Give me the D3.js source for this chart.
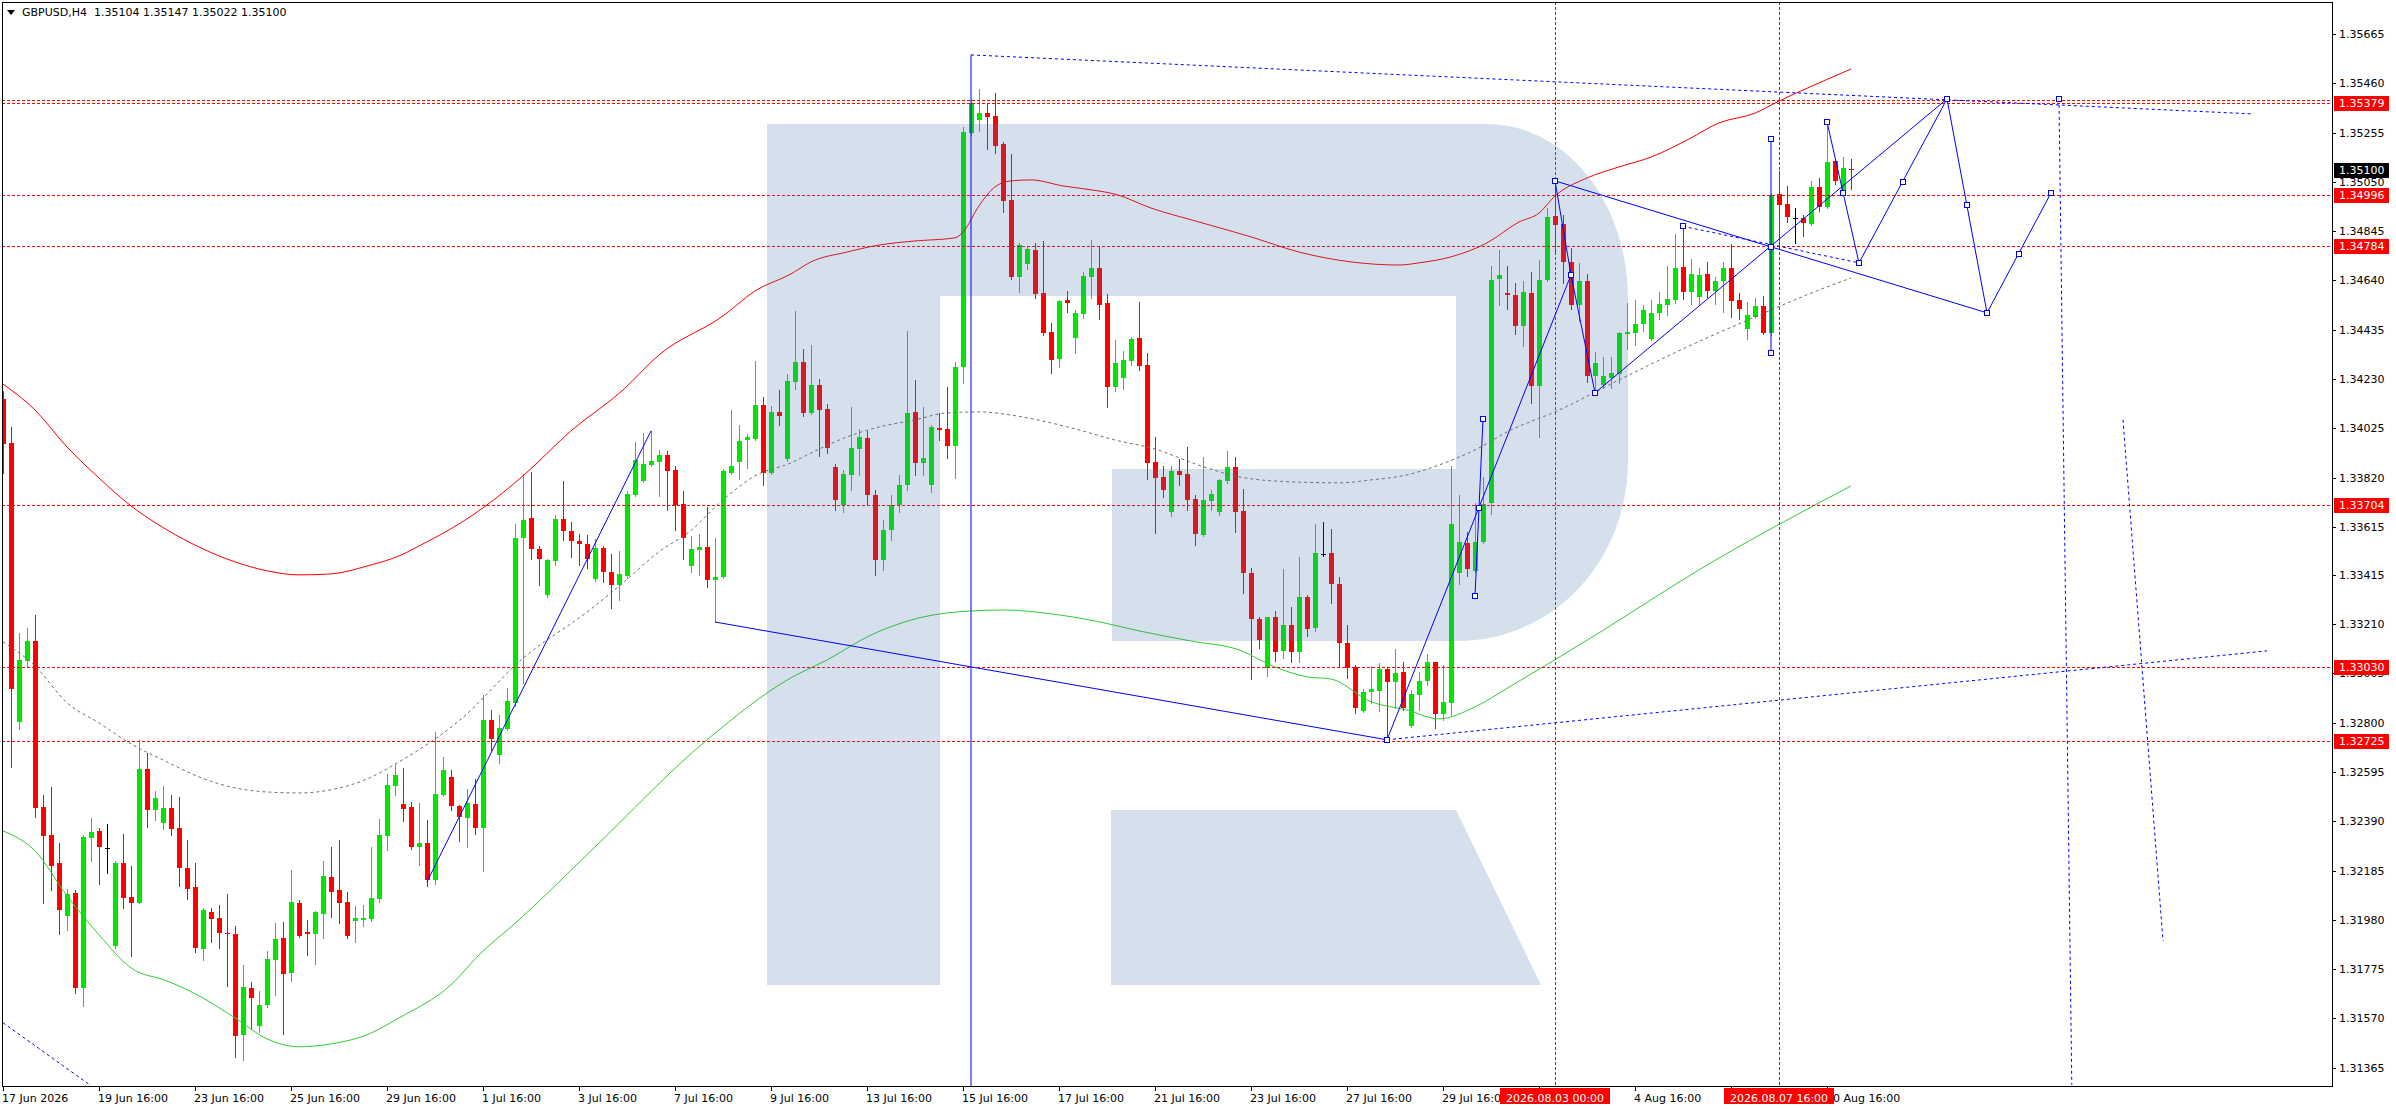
<!DOCTYPE html>
<html>
<head>
<meta charset="utf-8">
<script src="https://cdn.jsdelivr.net/npm/d3@7"></script>
<style>
  body { margin: 0; background: #fff; }
  svg { display: block; }
  text { font-family: "DejaVu Sans", sans-serif; font-size: 11px; }
</style>
</head>
<body>
<div id="container"></div>
<script>
// chart size and plot frame
var width = 2396, height = 1110;
var frame = {left: 2, top: 2, right: 2332, bottom: 1086};

// ---- data ----
var symbol = "GBPUSD,H4";
var firstBar = -12;   // bar 0 = 19 Jun 16:00, one bar = 4 hours

var opens = [
  1.34145,1.33964,1.32801,1.33057,1.33140,1.32449,1.32332,1.32215,1.31995,1.32092,1.31695,1.32319,
  1.32350,1.32278,1.31872,1.32218,1.32074,1.32052,1.32608,1.32438,1.32382,1.32446,1.32363,1.32197,
  1.32115,1.31859,1.32014,1.31987,1.31926,1.31922,1.31502,1.31697,1.31538,1.31625,1.31814,1.31904,
  1.31760,1.32052,1.31931,1.31920,1.32004,1.32159,1.32105,1.32056,1.31977,1.31980,1.31982,1.32067,
  1.32330,1.32538,1.32463,1.32451,1.32283,1.32301,1.32147,1.32499,1.32575,1.32452,1.32405,1.32463,
  1.32362,1.32811,1.32667,1.32773,1.32882,1.33567,1.33652,1.33524,1.33333,1.33471,1.33648,1.33598,
  1.33558,1.33545,1.33396,1.33527,1.33425,1.33371,1.33410,1.33749,1.33807,1.33874,1.33886,1.33912,
  1.33852,1.33711,1.33452,1.33518,1.33531,1.33392,1.33405,1.33840,1.33885,1.33975,1.33982,1.34123,
  1.33840,1.34092,1.33897,1.34219,1.34301,1.34090,1.34206,1.34105,1.33865,1.33706,1.33831,1.33939,
  1.33985,1.33748,1.33477,1.33602,1.33706,1.33789,1.34094,1.33882,1.33789,1.34026,1.34022,1.33951,
  1.34280,1.35255,1.35309,1.35336,1.35324,1.35208,1.34975,1.34656,1.34707,1.34767,1.34588,1.34425,
  1.34314,1.34559,1.34402,1.34502,1.34656,1.34692,1.34546,1.34198,1.34236,1.34306,1.34402,1.34288,
  1.33885,1.33824,1.33678,1.33847,1.33835,1.33731,1.33581,1.33723,1.33678,1.33806,1.33863,1.33681,
  1.33422,1.33232,1.33027,1.33239,1.33100,1.33207,1.33096,1.33322,1.33196,1.33502,1.33505,1.33377,
  1.33130,1.33031,1.32850,1.32927,1.32934,1.33024,1.32971,1.33010,1.32788,1.32916,1.32974,1.33052,
  1.32836,1.32884,1.33422,1.33547,1.33433,1.33553,1.33713,1.34644,1.34588,1.34579,1.34452,1.34589,
  1.34202,1.34642,1.34908,1.34875,1.34715,1.34538,1.34638,1.34244,1.34205,1.34236,1.34250,1.34416,
  1.34423,1.34458,1.34395,1.34503,1.34538,1.34559,1.34695,1.34593,1.34572,1.34667,1.34596,1.34636,
  1.34690,1.34559,1.34437,1.34489,1.34534,1.34423,1.34999,1.34958,1.34898,1.34901,1.34875,1.35027,
  1.34944,1.35137,1.35016,1.35104
];
var highs = [
  1.34181,1.34031,1.33174,1.33194,1.33248,1.32498,1.32534,1.32299,1.32108,1.32106,1.32332,1.32404,
  1.32364,1.32377,1.32224,1.32336,1.32206,1.32729,1.32675,1.32516,1.32536,1.32498,1.32491,1.32314,
  1.32218,1.32029,1.32029,1.32043,1.32088,1.31953,1.31791,1.31722,1.31683,1.31850,1.31966,1.31971,
  1.32188,1.32061,1.31980,1.32016,1.32224,1.32283,1.32314,1.32094,1.32038,1.32043,1.32281,1.32401,
  1.32585,1.32630,1.32611,1.32472,1.32467,1.32396,1.32761,1.32656,1.32602,1.32458,1.32526,1.32566,
  1.32914,1.32855,1.32833,1.32945,1.33627,1.33834,1.33843,1.33536,1.33482,1.33663,1.33807,1.33636,
  1.33585,1.33581,1.33563,1.33536,1.33500,1.33515,1.33762,1.33969,1.34006,1.34014,1.33933,1.33930,
  1.33870,1.33762,1.33576,1.33587,1.33699,1.33569,1.33857,1.34101,1.34038,1.34002,1.34303,1.34155,
  1.34117,1.34186,1.34249,1.34513,1.34355,1.34372,1.34230,1.34126,1.33877,1.33852,1.34114,1.34022,
  1.34014,1.33769,1.33644,1.33748,1.33830,1.34430,1.34226,1.34114,1.34039,1.34089,1.34197,1.34301,
  1.35278,1.35395,1.35436,1.35374,1.35420,1.35215,1.35166,1.34796,1.34783,1.34796,1.34804,1.34464,
  1.34560,1.34597,1.34517,1.34675,1.34808,1.34783,1.34584,1.34392,1.34347,1.34406,1.34550,1.34338,
  1.33990,1.33868,1.33869,1.33897,1.33948,1.33748,1.33907,1.33769,1.33815,1.33931,1.33907,1.33773,
  1.33444,1.33240,1.33241,1.33265,1.33440,1.33283,1.33491,1.33330,1.33627,1.33634,1.33605,1.33408,
  1.33207,1.33040,1.32939,1.33038,1.33048,1.33027,1.33107,1.33052,1.32937,1.33013,1.33086,1.33054,
  1.33041,1.33870,1.33748,1.33592,1.33713,1.33824,1.34700,1.34767,1.34700,1.34628,1.34638,1.34676,
  1.34725,1.34943,1.35058,1.34912,1.34774,1.34711,1.34667,1.34344,1.34323,1.34323,1.34425,1.34545,
  1.34559,1.34538,1.34559,1.34593,1.34700,1.34833,1.34864,1.34728,1.34691,1.34718,1.34656,1.34715,
  1.34790,1.34587,1.34549,1.34566,1.34577,1.35004,1.35095,1.35033,1.34940,1.34912,1.35055,1.35067,
  1.35298,1.35141,1.35154,1.35147
];
var lows = [
  1.33838,1.32615,1.32772,1.33035,1.32408,1.32049,1.32106,1.31922,1.31939,1.31677,1.31623,1.32224,
  1.32130,1.32175,1.31865,1.32029,1.31830,1.32049,1.32368,1.32395,1.32359,1.32332,1.32119,1.32065,
  1.31845,1.31814,1.31888,1.31863,1.31706,1.31408,1.31395,1.31526,1.31515,1.31619,1.31668,1.31506,
  1.31724,1.31908,1.31832,1.31796,1.31903,1.31993,1.31968,1.31905,1.31888,1.31953,1.31975,1.32054,
  1.32272,1.32500,1.32391,1.32275,1.32207,1.32120,1.32129,1.32494,1.32436,1.32310,1.32283,1.32337,
  1.32184,1.32685,1.32634,1.32770,1.32869,1.32965,1.33482,1.33374,1.33325,1.33455,1.33560,1.33488,
  1.33455,1.33443,1.33390,1.33387,1.33279,1.33311,1.33402,1.33744,1.33800,1.33868,1.33744,1.33686,
  1.33603,1.33482,1.33425,1.33416,1.33365,1.33217,1.33401,1.33835,1.33812,1.33861,1.33975,1.33789,
  1.33834,1.34038,1.33888,1.34188,1.34077,1.34086,1.33911,1.33921,1.33685,1.33677,1.33768,1.33831,
  1.33706,1.33415,1.33436,1.33560,1.33677,1.33768,1.33831,1.33831,1.33760,1.33976,1.33901,1.33818,
  1.34213,1.35245,1.35262,1.35188,1.35171,1.34926,1.34646,1.34593,1.34689,1.34568,1.34413,1.34256,
  1.34280,1.34508,1.34340,1.34484,1.34568,1.34481,1.34115,1.34181,1.34190,1.34288,1.34268,1.33813,
  1.33591,1.33741,1.33662,1.33789,1.33685,1.33540,1.33575,1.33685,1.33664,1.33796,1.33595,1.33341,
  1.32981,1.33110,1.32996,1.33058,1.33071,1.33052,1.33054,1.33161,1.33182,1.33495,1.33300,1.33036,
  1.32985,1.32840,1.32845,1.32884,1.32850,1.32729,1.32861,1.32853,1.32784,1.32853,1.32955,1.32780,
  1.32812,1.32833,1.33376,1.33411,1.33429,1.33548,1.33667,1.34538,1.34521,1.34416,1.34367,1.34129,
  1.33990,1.34638,1.34760,1.34631,1.34521,1.34473,1.34219,1.34177,1.34191,1.34191,1.34212,1.34354,
  1.34372,1.34431,1.34392,1.34478,1.34496,1.34545,1.34563,1.34542,1.34538,1.34572,1.34541,1.34510,
  1.34489,1.34480,1.34395,1.34485,1.34415,1.34413,1.34787,1.34884,1.34797,1.34826,1.34871,1.34930,
  1.34940,1.35041,1.35009,1.35022
];
var closes = [
  1.33959,1.32942,1.33063,1.33140,1.32447,1.32327,1.32206,1.32022,1.32088,1.31695,1.32323,1.32346,
  1.32281,1.32278,1.32218,1.32069,1.32052,1.32608,1.32438,1.32487,1.32446,1.32359,1.32197,1.32110,
  1.31863,1.32022,1.31984,1.31926,1.31922,1.31497,1.31701,1.31655,1.31627,1.31818,1.31899,1.31755,
  1.32054,1.31913,1.31920,1.32011,1.32164,1.32096,1.32050,1.31913,1.31987,1.31989,1.32069,1.32332,
  1.32541,1.32583,1.32443,1.32283,1.32301,1.32147,1.32505,1.32602,1.32452,1.32409,1.32467,1.32362,
  1.32810,1.32734,1.32779,1.32892,1.33569,1.33645,1.33524,1.33482,1.33477,1.33648,1.33596,1.33554,
  1.33545,1.33482,1.33527,1.33425,1.33371,1.33419,1.33753,1.33894,1.33876,1.33888,1.33913,1.33849,
  1.33704,1.33567,1.33522,1.33531,1.33392,1.33407,1.33847,1.33868,1.33973,1.33989,1.34123,1.33840,
  1.34092,1.34078,1.34222,1.34301,1.34090,1.34206,1.34101,1.33944,1.33727,1.33835,1.33943,1.33989,
  1.33748,1.33477,1.33602,1.33706,1.33789,1.34090,1.33882,1.33903,1.34032,1.34018,1.33951,1.34280,
  1.35259,1.35379,1.35336,1.35321,1.35200,1.34972,1.34656,1.34786,1.34771,1.34585,1.34421,1.34310,
  1.34554,1.34547,1.34505,1.34659,1.34692,1.34539,1.34198,1.34297,1.34309,1.34396,1.34285,1.33882,
  1.33820,1.33768,1.33847,1.33831,1.33727,1.33585,1.33727,1.33752,1.33810,1.33863,1.33678,1.33422,
  1.33232,1.33145,1.33239,1.33096,1.33207,1.33096,1.33322,1.33190,1.33505,1.33502,1.33376,1.33133,
  1.33027,1.32863,1.32927,1.32941,1.33024,1.32971,1.33006,1.32860,1.32919,1.32974,1.33052,1.32836,
  1.32885,1.33626,1.33551,1.33439,1.33553,1.33709,1.34642,1.34663,1.34578,1.34452,1.34593,1.34202,
  1.34642,1.34905,1.34872,1.34718,1.34538,1.34638,1.34244,1.34295,1.34244,1.34254,1.34420,1.34424,
  1.34458,1.34517,1.34503,1.34541,1.34562,1.34690,1.34593,1.34667,1.34663,1.34596,1.34638,1.34690,
  1.34556,1.34520,1.34496,1.34534,1.34423,1.34995,1.34954,1.34905,1.34898,1.34878,1.35027,1.34944,
  1.35134,1.35055,1.35106,1.35100
];

// envelope indicator, read as [bar, price]
var upperBand = [[-12,1.34209],[-8,1.34101],[-4,1.33947],[0,1.33818],[4,1.33702],[8.5,1.33602],[12.5,1.33531],
  [17,1.33469],[21,1.33432],[25,1.33415],[29,1.33419],[33.5,1.33452],[37.5,1.33494],[40.5,1.33544],[45,1.33627],
  [48.5,1.33706],[53,1.33827],[59,1.34014],[65.5,1.34184],[70,1.34330],[78,1.34492],[82,1.34596],[86.5,1.34667],
  [89,1.34717],[93.5,1.34758],[97.5,1.34787],[102,1.34804],[107,1.34817],[108,1.34841],[110,1.34950],[112,1.35029],
  [114,1.35054],[116.5,1.35058],[120.5,1.35033],[125,1.35012],[127,1.34999],[131.5,1.34941],[137.5,1.34883],
  [144,1.34821],[150,1.34758],[156.5,1.34717],[162.5,1.34704],[165,1.34713],[169,1.34738],[173.5,1.34796],
  [177.5,1.34883],[180,1.34920],[182,1.34991],[186,1.35066],[190,1.35112],[194,1.35153],[198.5,1.35224],
  [202.5,1.35295],[207,1.35336],[210,1.35386],[213,1.35432],[219,1.35519]];
var middleLine = [[-12,1.33136],[-8,1.33036],[-4,1.32883],[0,1.32799],[4,1.32712],[8.5,1.32637],[12.5,1.32575],
  [17,1.32529],[21,1.32512],[25,1.32508],[29,1.32521],[33.5,1.32566],[37.5,1.32637],[45,1.32808],[53,1.33068],
  [61.5,1.33273],[65.5,1.33382],[70,1.33511],[74,1.33600],[78,1.33727],[82,1.33827],[86.5,1.33881],[89,1.33922],
  [93.5,1.33989],[97.5,1.34030],[102,1.34060],[106,1.34089],[110,1.34093],[114,1.34080],[118.5,1.34051],
  [122.5,1.34018],[127,1.33976],[131.5,1.33943],[138.5,1.33860],[142.5,1.33823],[149,1.33802],[155,1.33798],
  [159,1.33810],[163.5,1.33831],[167.5,1.33872],[172,1.33935],[176.5,1.34018],[182,1.34093],[190,1.34226],
  [198.5,1.34363],[207,1.34488],[215,1.34600],[219,1.34650]];
var lowerBand = [[-12,1.32350],[-8,1.32267],[-4,1.32080],[0,1.31918],[4,1.31780],[8.5,1.31726],[12.5,1.31664],
  [17,1.31572],[21,1.31485],[25,1.31452],[29,1.31464],[33.5,1.31502],[37.5,1.31572],[44,1.31710],[47.5,1.31834],
  [52.5,1.31980],[61.5,1.32267],[76,1.32729],[86.5,1.32987],[91,1.33061],[96.5,1.33165],[102.5,1.33236],
  [109,1.33265],[113,1.33269],[119,1.33253],[125,1.33220],[130,1.33182],[136.5,1.33140],[142.5,1.33103],
  [147,1.33032],[151,1.32991],[154,1.32982],[159,1.32887],[163.5,1.32853],[167.5,1.32816],[172,1.32866],
  [176.5,1.32953],[187.5,1.33174],[200,1.33436],[219,1.33785]];

// axis ticks
var timeTickBars = [-12,0,12,24,36,48,60,72,84,96,108,120,132,144,156,168,180,192,204,216];
var timeTickLabels = ["17 Jun 2026","19 Jun 16:00","23 Jun 16:00","25 Jun 16:00","29 Jun 16:00","1 Jul 16:00",
  "3 Jul 16:00","7 Jul 16:00","9 Jul 16:00","13 Jul 16:00","15 Jul 16:00","17 Jul 16:00","21 Jul 16:00",
  "23 Jul 16:00","27 Jul 16:00","29 Jul 16:00","31 Jul 16:00","4 Aug 16:00","6 Aug 16:00","10 Aug 16:00"];
var priceTicks = [1.31365,1.31570,1.31775,1.31980,1.32185,1.32390,1.32595,1.32800,1.33005,1.33210,1.33415,
  1.33615,1.33820,1.34025,1.34230,1.34435,1.34640,1.34845,1.35050,1.35255,1.35460,1.35665];

// horizontal levels (red dotted), time markers (red dashed)
var levelPrices = [1.35379, 1.34996, 1.34784, 1.33704, 1.33030, 1.32725];
var extraLevels = [1.35390];
var lastPrice = 1.35100;
var markerBars = [182, 210];
var markerLabels = ["2026.08.03 00:00", "2026.08.07 16:00"];

// hand drawn objects, [bar, price]
var blueSolid = [
  [[41,1.32138],[69,1.34014]],
  [[77,1.33219],[161,1.32729]],
  [[161,1.32729],[184,1.34663]],
  [[182,1.35054],[184,1.34663],[187,1.34172],[231,1.35395]],
  [[182,1.35054],[236,1.34505]],
  [[173,1.34064],[172.5,1.33694],[172,1.33328]],
  [[209,1.35228],[209,1.34338]],
  [[216,1.35299],[220,1.34713],[231,1.35395],[236,1.34505],[244,1.35004]],
  [[109,1.35578],[109,1.30]]
];
var blueDotted = [
  [[109,1.35578],[269,1.35333]],
  [[161,1.32729],[271,1.33099]],
  [[198,1.34865],[220,1.34713]],
  [[245,1.35395],[246.6,1.31294]],
  [[253,1.34060],[258,1.31892]],
  [[-12,1.31552],[-1,1.31290]]
];
var blueMarkers = [[161,1.32729],[173,1.34064],[172.5,1.33694],[172,1.33328],[182,1.35054],[184,1.34663],
  [187,1.34172],[209,1.35228],[209,1.34779],[209,1.34338],[198,1.34865],[216,1.35299],[218,1.35004],
  [220,1.34713],[225.5,1.35049],[231,1.35395],[233.5,1.34955],[236,1.34505],[240,1.34750],[244,1.35004],
  [245,1.35395]];

// ---- drawing ----
var svg = d3.select("#container")
  .append("svg")
    .attr("width", width)
    .attr("height", height);

svg.append("rect").attr("width", width).attr("height", height).attr("fill", "#fff");

var x = d3.scaleLinear()
  .domain([firstBar, 219])
  .range([3, 1851]);

var y = d3.scaleLinear()
  .domain([1.31365, 1.35665])
  .range([1067.7, 34]);

svg.append("clipPath").attr("id", "plotclip")
  .append("rect")
    .attr("x", frame.left).attr("y", frame.top)
    .attr("width", frame.right - frame.left).attr("height", frame.bottom - frame.top);

var plot = svg.append("g").attr("clip-path", "url(#plotclip)");

var bars = d3.range(opens.length).map(function(k) {
  return {i: firstBar + k, o: opens[k], h: highs[k], l: lows[k], c: closes[k]};
});
function barColor(d) {
  if (d.c > d.o) return "#00e600";
  if (d.c < d.o) return "#ff0000";
  return "#000000";
}

// wicks
plot.append("g").selectAll("line")
  .data(bars)
  .enter()
  .append("line")
    .attr("x1", function(d) { return Math.round(x(d.i)) + 0.5; })
    .attr("x2", function(d) { return Math.round(x(d.i)) + 0.5; })
    .attr("y1", function(d) { return Math.round(y(d.h)); })
    .attr("y2", function(d) { return Math.round(y(d.l)) + 1; })
    .attr("stroke", barColor)
    .attr("stroke-width", 1)
    .attr("shape-rendering", "crispEdges");

// bodies
plot.append("g").selectAll("rect")
  .data(bars)
  .enter()
  .append("rect")
    .attr("x", function(d) { return Math.round(x(d.i)) - 2; })
    .attr("y", function(d) { return Math.round(y(Math.max(d.o, d.c))); })
    .attr("width", 5)
    .attr("height", function(d) {
      return Math.max(1, Math.round(y(Math.min(d.o, d.c))) - Math.round(y(Math.max(d.o, d.c))));
    })
    .attr("fill", barColor)
    .attr("shape-rendering", "crispEdges");

// envelope lines
var bandLine = d3.line()
  .x(function(d) { return x(d[0]); })
  .y(function(d) { return y(d[1]); })
  .curve(d3.curveMonotoneX);

plot.append("path").datum(upperBand)
  .attr("d", bandLine).attr("fill", "none").attr("stroke", "#ff0000").attr("stroke-width", 1);
plot.append("path").datum(middleLine)
  .attr("d", bandLine).attr("fill", "none").attr("stroke", "#707070").attr("stroke-width", 1)
  .attr("stroke-dasharray", "3,3");
plot.append("path").datum(lowerBand)
  .attr("d", bandLine).attr("fill", "none").attr("stroke", "#32cd32").attr("stroke-width", 1);

// red levels and time markers
plot.append("g").selectAll("line")
  .data(levelPrices.concat(extraLevels))
  .enter()
  .append("line")
    .attr("x1", frame.left).attr("x2", frame.right)
    .attr("y1", function(d) { return Math.round(y(d)) + 0.5; })
    .attr("y2", function(d) { return Math.round(y(d)) + 0.5; })
    .attr("stroke", "#ff0000").attr("stroke-dasharray", "3,2")
    .attr("shape-rendering", "crispEdges");

plot.append("g").selectAll("line")
  .data(markerBars)
  .enter()
  .append("line")
    .attr("x1", function(d) { return Math.round(x(d)) + 0.5; })
    .attr("x2", function(d) { return Math.round(x(d)) + 0.5; })
    .attr("y1", frame.top).attr("y2", frame.bottom)
    .attr("stroke", "#ff0000").attr("stroke-dasharray", "3,2")
    .attr("shape-rendering", "crispEdges");

// watermark logo (semi transparent over the chart)
var logo = plot.append("g").attr("fill", "rgb(67,116,170)").attr("fill-opacity", 0.224);
logo.append("path")
  .attr("d", "M767,124 H1487 C1565,124 1628,200 1628,300 V460 C1628,560 1555,641 1456,641 H1112 V469 H1456 V296 H940 V985 H767 Z");
logo.append("path")
  .attr("d", "M1111,810 H1456 L1541,985 H1111 Z");

// blue drawings
var objLine = d3.line()
  .x(function(d) { return x(d[0]); })
  .y(function(d) { return y(d[1]); });

plot.append("g").selectAll("path")
  .data(blueSolid)
  .enter()
  .append("path")
    .attr("d", objLine)
    .attr("fill", "none").attr("stroke", "#0000ff").attr("stroke-width", 1);

plot.append("g").selectAll("path")
  .data(blueDotted)
  .enter()
  .append("path")
    .attr("d", objLine)
    .attr("fill", "none").attr("stroke", "#0000ff").attr("stroke-width", 1)
    .attr("stroke-dasharray", "3,3");

plot.append("g").selectAll("rect")
  .data(blueMarkers)
  .enter()
  .append("rect")
    .attr("x", function(d) { return Math.round(x(d[0])) - 2.5; })
    .attr("y", function(d) { return Math.round(y(d[1])) - 2.5; })
    .attr("width", 5).attr("height", 5)
    .attr("fill", "#fff").attr("stroke", "#0000ff").attr("stroke-width", 1);

// frame
svg.append("rect")
  .attr("x", frame.left + 0.5).attr("y", frame.top + 0.5)
  .attr("width", frame.right - frame.left).attr("height", frame.bottom - frame.top)
  .attr("fill", "none").attr("stroke", "#000").attr("stroke-width", 1)
  .attr("shape-rendering", "crispEdges");

// price axis
var fmt = d3.format(".5f");
var pAxis = svg.append("g");
pAxis.selectAll("line")
  .data(priceTicks)
  .enter()
  .append("line")
    .attr("x1", frame.right).attr("x2", frame.right + 4)
    .attr("y1", function(d) { return Math.round(y(d)) + 0.5; })
    .attr("y2", function(d) { return Math.round(y(d)) + 0.5; })
    .attr("stroke", "#000").attr("shape-rendering", "crispEdges");
pAxis.selectAll("text")
  .data(priceTicks)
  .enter()
  .append("text")
    .attr("x", frame.right + 7)
    .attr("y", function(d) { return Math.round(y(d)) + 4; })
    .attr("fill", "#000")
    .text(fmt);

// time axis: labels that sit fully under a time tag are hidden, as in the terminal
function underTag(b) {
  return markerBars.some(function(m) { return b < m && m - b < 8; });
}
var tAxis = svg.append("g");
tAxis.selectAll("line")
  .data(timeTickBars)
  .enter()
  .append("line")
    .attr("x1", function(d) { return Math.round(x(d)) + 0.5; })
    .attr("x2", function(d) { return Math.round(x(d)) + 0.5; })
    .attr("y1", frame.bottom).attr("y2", frame.bottom + 5)
    .attr("stroke", "#000").attr("shape-rendering", "crispEdges");
tAxis.selectAll("text")
  .data(timeTickBars.filter(function(d) { return !underTag(d); }))
  .enter()
  .append("text")
    .attr("x", function(d) { return Math.round(x(d)) - 1; })
    .attr("y", 1102)
    .attr("fill", "#000")
    .text(function(d) { return timeTickLabels[timeTickBars.indexOf(d)]; });

// price tags for levels
var tags = svg.append("g");
var tagData = levelPrices.map(function(p) { return {p: p, bg: "#ff0000"}; })
  .concat([{p: lastPrice, bg: "#000000"}]);
tags.selectAll("rect")
  .data(tagData)
  .enter()
  .append("rect")
    .attr("x", frame.right + 2)
    .attr("y", function(d) { return Math.round(y(d.p)) - 7; })
    .attr("width", 55).attr("height", 15)
    .attr("fill", function(d) { return d.bg; });
tags.selectAll("text")
  .data(tagData)
  .enter()
  .append("text")
    .attr("x", frame.right + 7)
    .attr("y", function(d) { return Math.round(y(d.p)) + 4; })
    .attr("fill", "#fff")
    .text(function(d) { return fmt(d.p); });

// time tags
var ttags = svg.append("g");
ttags.selectAll("rect")
  .data(markerBars)
  .enter()
  .append("rect")
    .attr("x", function(d) { return Math.round(x(d)) - 55; })
    .attr("y", frame.bottom + 2)
    .attr("width", 110).attr("height", 16)
    .attr("fill", "#ff0000");
ttags.selectAll("text")
  .data(markerBars)
  .enter()
  .append("text")
    .attr("x", function(d) { return Math.round(x(d)); })
    .attr("y", 1102)
    .attr("text-anchor", "middle")
    .attr("fill", "#fff")
    .text(function(d, k) { return markerLabels[k]; });

// header
var last = bars[bars.length - 1];
svg.append("path").attr("d", "M7,10 L15,10 L11,15 Z").attr("fill", "#000");
svg.append("text")
  .attr("x", 22).attr("y", 16)
  .attr("fill", "#000")
  .attr("xml:space", "preserve")
  .style("white-space", "pre")
  .text(symbol + "  " + [last.o, last.h, last.l, last.c].map(fmt).join(" "));
</script>
</body>
</html>
